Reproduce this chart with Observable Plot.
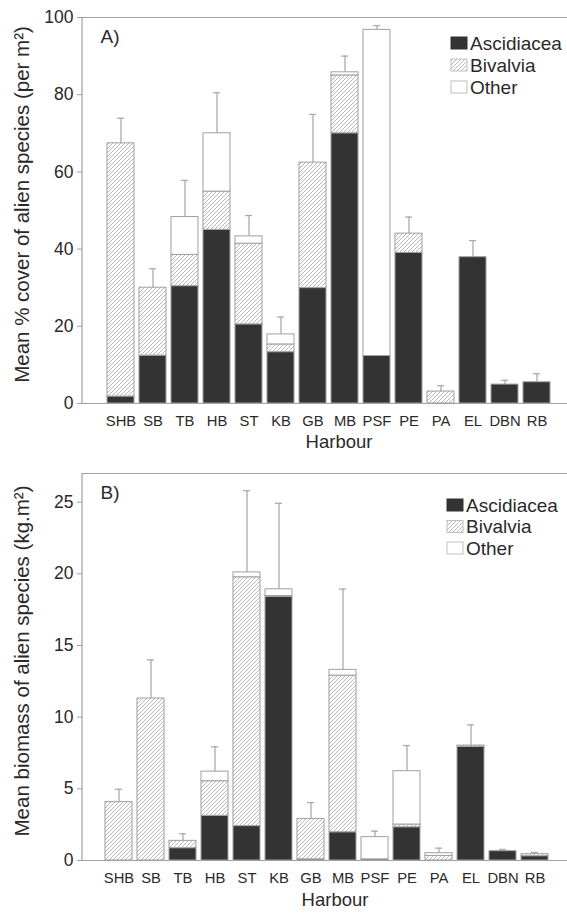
<!DOCTYPE html>
<html><head><meta charset="utf-8">
<script src="https://cdn.jsdelivr.net/npm/d3@7"></script>
<script src="https://cdn.jsdelivr.net/npm/@observablehq/plot@0.6"></script>
<style>body{margin:0;background:#fff} #chart svg{display:block}</style>
</head><body><div id="chart"></div>
<script>
const harbours = ["SHB","SB","TB","HB","ST","KB","GB","MB","PSF","PE","PA","EL","DBN","RB"];
const groups = ["Ascidiacea","Bivalvia","Other"];

// Panel A: mean % cover (per m2)
const coverAsc = [1.8, 12.4, 30.4, 45.0, 20.5, 13.3, 29.9, 70.0, 12.3, 39.0, 0, 37.9, 4.9, 5.5];
const coverBiv = [65.6, 17.6, 8.1, 9.9, 20.9, 2.0, 32.5, 15.0, 0, 5.0, 3.1, 0, 0, 0];
const coverOth = [0, 0, 9.8, 15.1, 1.9, 2.6, 0, 0.8, 84.5, 0, 0, 0, 0, 0];
const coverSE  = [6.5, 4.9, 9.5, 10.5, 5.4, 4.5, 12.5, 4.2, 1.1, 4.3, 1.5, 4.3, 1.1, 2.2];
const coverTicks = [0, 20, 40, 60, 80, 100];

// Panel B: mean biomass (kg.m2)
const massAsc = [0, 0, 0.86, 3.12, 2.4, 18.4, 0.08, 1.97, 0.08, 2.32, 0, 7.93, 0.65, 0.3];
const massBiv = [4.07, 11.3, 0.51, 2.41, 17.36, 0.05, 2.82, 10.93, 0, 0.19, 0.32, 0.09, 0, 0.14];
const massOth = [0, 0, 0, 0.67, 0.34, 0.47, 0, 0.4, 1.55, 3.72, 0.19, 0, 0, 0];
const massSE  = [0.9, 2.7, 0.49, 1.73, 5.7, 6.0, 1.14, 5.64, 0.42, 1.79, 0.35, 1.44, 0.12, 0.12];
const massTicks = [0, 5, 10, 15, 20, 25];

const FONT = "'Liberation Sans', Arial, Helvetica, sans-serif";
const INK = "#2a2a2a", LINE = "#a0a0a0", DARK = "#333333", ERR = "#ababab";

function build(asc, biv, oth, se) {
  const segs = [], tops = [];
  harbours.forEach((h, i) => {
    let base = 0;
    [asc[i], biv[i], oth[i]].forEach((v, k) => {
      if (v > 0) segs.push({harbour: h, group: groups[k], y1: base, y2: base + v});
      base += v;
    });
    tops.push({harbour: h, total: base, upper: base + se[i]});
  });
  return {segs, tops};
}

function panel(o) {
  const {segs, tops} = build(o.asc, o.biv, o.oth, o.se);
  const hatch = "hatch" + o.tag[0];
  const bars = (g, fill) => Plot.barY(segs.filter(d => d.group === g),
    {x: "harbour", y1: "y1", y2: "y2", fill, stroke: LINE, strokeWidth: 1});
  const chart = Plot.plot({
    width: 567, height: o.height, marginTop: o.marginTop, marginBottom: o.marginBottom,
    marginLeft: 82, marginRight: 0,
    style: {fontFamily: FONT, fontSize: "17px", color: INK, background: "#fff"},
    x: {domain: harbours, range: o.xRange, paddingInner: 0.16, paddingOuter: 0.5, align: 0.5},
    y: {domain: [0, o.yMax]},
    marks: [
      Plot.ruleX(tops, {x: "harbour", y1: "total", y2: "upper", stroke: ERR, strokeWidth: 1.3}),
      Plot.tickY(tops, {x: "harbour", y: "upper", stroke: ERR, strokeWidth: 1.3, insetLeft: 10, insetRight: 10}),
      bars("Ascidiacea", DARK),
      bars("Bivalvia", `url(#${hatch})`),
      bars("Other", "#ffffff"),
      Plot.ruleY([0, o.yMax], {stroke: LINE, strokeWidth: 1.2}),
      Plot.axisY({ticks: o.yTicks, tickSize: 5, tickPadding: 4, stroke: LINE, fill: INK, fontSize: 17.5, label: null}),
      Plot.axisX({tickSize: 0, tickPadding: 12, fill: INK, fontSize: 14.8, label: null}),
      Plot.text([o.yLabel], {frameAnchor: "left", textAnchor: "middle", lineAnchor: "middle", rotate: -90, dx: -60, dy: -6, fontSize: 20.5, fill: INK}),
      Plot.text(["Harbour"], {frameAnchor: "bottom", dx: o.hdx, dy: o.hdy, fontSize: 18.5, fill: INK}),
      Plot.text([o.tag], {frameAnchor: "top-left", dx: 18, dy: 12, fontSize: 19, fill: INK})
    ]
  });
  const svg = d3.select(chart);
  const defs = svg.insert("defs", ":first-child");
  const pat = defs.append("pattern").attr("id", hatch).attr("patternUnits", "userSpaceOnUse")
    .attr("width", 4).attr("height", 4);
  pat.append("rect").attr("width", 4).attr("height", 4).attr("fill", "#fff");
  pat.append("path").attr("d", "M-1,1 l2,-2 M0,4 l4,-4 M3,5 l2,-2")
    .attr("stroke", "#b8b8b8").attr("stroke-width", 1);
  const ys = chart.scale("y").range;
  svg.append("line").attr("x1", 82).attr("x2", 82).attr("y1", ys[0]).attr("y2", ys[1])
    .attr("stroke", LINE).attr("stroke-width", 1.2);
  // legend
  const lg = svg.append("g").attr("font-family", FONT).attr("font-size", 19)
    .attr("fill", INK).attr("text-anchor", "start");
  const fills = [DARK, `url(#${hatch})`, "#fff"];
  groups.forEach((g, k) => {
    const cy = o.legY + k * o.legStep;
    lg.append("rect").attr("x", o.legX).attr("y", cy - 6).attr("width", 16).attr("height", 12)
      .attr("fill", fills[k]).attr("stroke", k === 0 ? DARK : "#c0c0c0");
    lg.append("text").attr("x", o.legX + 19).attr("y", cy).attr("dy", "0.35em").text(g);
  });
  return chart;
}

const root = document.getElementById("chart");
root.append(panel({
  asc: coverAsc, biv: coverBiv, oth: coverOth, se: coverSE, yMax: 100, yTicks: coverTicks,
  yLabel: "Mean % cover of alien species (per m²)", tag: "A)",
  height: 457, marginTop: 17, marginBottom: 54, xRange: [85.3, 572.3], hdx: 14, hdy: 44,
  legX: 451, legY: 43, legStep: 22
}));
root.append(panel({
  asc: massAsc, biv: massBiv, oth: massOth, se: massSE, yMax: 27, yTicks: massTicks,
  yLabel: "Mean biomass of alien species (kg.m²)", tag: "B)",
  height: 456, marginTop: 16, marginBottom: 53, xRange: [82.6, 569.6], hdx: 10, hdy: 45,
  legX: 447, legY: 48, legStep: 21.5
}));
</script></body></html>
